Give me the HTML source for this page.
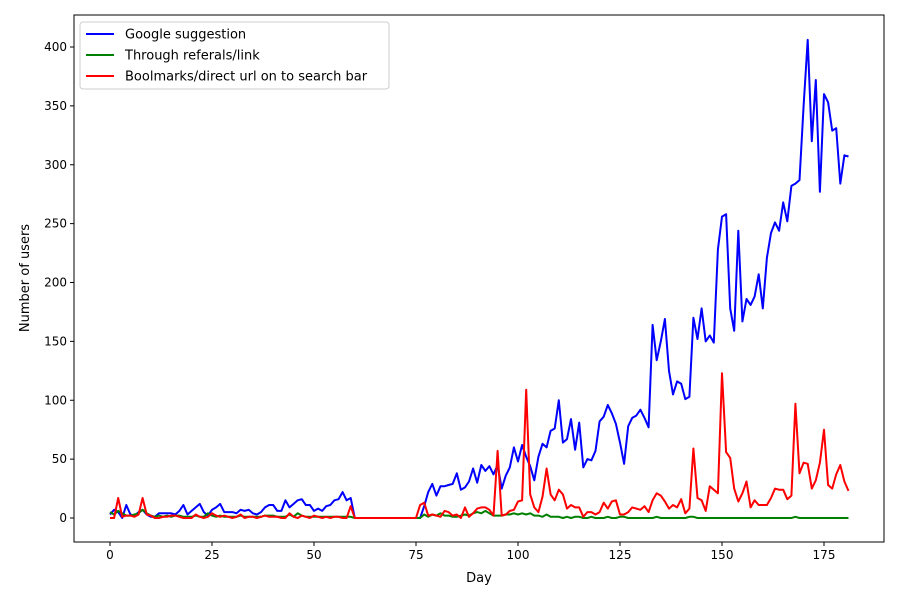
<!DOCTYPE html>
<html><head><meta charset="utf-8">
<style>body{margin:0;background:#fff;font-family:"Liberation Sans","DejaVu Sans",sans-serif}</style></head>
<body>
<svg id="chart" width="900" height="600" xmlns="http://www.w3.org/2000/svg" font-family="DejaVu Sans, Liberation Sans, sans-serif"></svg>
<script>
const xTicks=[0,25,50,75,100,125,150,175];
const yTicks=[0,50,100,150,200,250,300,350,400];
const seriesNames=["Google suggestion","Through referals/link","Boolmarks/direct url on to search bar"];
const google=[3,7,5,0,11,3,2,5,7,3,1,1,4,4,4,4,3,6,11,3,6,9,12,5,2,7,9,12,5,5,5,4,7,6,7,4,3,5,9,11,11,6,6,15,9,12,15,16,11,11,6,8,6,10,11,15,16,22,15,17,0,0,0,0,0,0,0,0,0,0,0,0,0,0,0,0,0,10,22,29,19,27,27,28,29,38,24,26,31,42,30,45,40,44,37,45,25,36,43,60,48,62,52,44,32,52,63,60,74,76,100,64,67,84,58,81,43,50,49,57,82,86,96,89,80,64,46,78,85,87,92,85,77,164,134,150,169,125,105,116,114,101,103,170,152,178,150,155,149,228,256,258,178,159,244,167,186,181,188,207,178,221,242,251,244,268,252,282,284,287,350,406,320,372,277,360,353,329,331,284,308,307];
const referral=[5,3,6,4,2,2,3,4,7,4,2,1,2,1,2,1,2,2,1,1,1,2,1,1,4,2,1,2,1,1,1,1,2,1,1,1,1,1,2,2,2,1,1,1,3,1,4,2,1,1,1,1,1,1,1,1,1,1,1,1,0,0,0,0,0,0,0,0,0,0,0,0,0,0,0,0,0,3,1,3,2,4,2,2,1,1,2,3,2,4,5,4,6,4,2,2,2,3,3,4,3,4,3,4,2,2,1,3,1,1,1,0,1,0,1,1,0,0,1,0,0,0,1,0,0,1,1,0,0,0,0,0,0,0,1,0,0,0,0,0,0,0,1,1,0,0,0,0,0,0,0,0,0,0,0,0,0,0,0,0,0,0,0,0,0,0,0,0,1,0,0,0,0,0,0,0,0,0,0,0,0,0];
const bookmark=[0,0,17,1,2,2,1,3,17,3,2,0,0,1,1,2,2,1,0,0,0,3,1,0,1,4,2,1,2,1,0,1,3,0,1,1,0,1,2,1,1,1,0,0,4,1,0,2,1,0,2,1,0,1,0,1,1,0,0,10,0,0,0,0,0,0,0,0,0,0,0,0,0,0,0,0,11,13,2,3,2,1,6,5,2,3,0,9,1,4,8,9,9,7,2,57,2,3,6,7,14,15,109,20,9,5,18,42,20,15,24,20,8,11,9,9,1,5,5,3,5,13,8,14,15,3,3,5,9,8,7,10,5,15,21,19,14,8,11,9,16,4,8,59,17,15,6,27,24,21,123,56,51,25,14,21,31,9,15,11,11,11,17,25,24,24,16,19,97,38,47,46,25,32,47,75,28,25,37,45,31,23];
const colors=["#0000ff","#008000","#ff0000"];
const svg=document.getElementById('chart');const NS="http://www.w3.org/2000/svg";
const L=74,R=884,T=15,B=542;
const xs=v=>110+v*(824-110)/175;
const ys=v=>518-v*(518-47)/400;
function mk(tag,attrs,parent){const e=document.createElementNS(NS,tag);for(const k in attrs)e.setAttribute(k,attrs[k]);(parent||svg).appendChild(e);return e;}
const frame=mk('rect',{x:L,y:T,width:R-L,height:B-T,fill:'none',stroke:'#000','stroke-width':1});


xTicks.forEach(t=>{const g=mk('g',{});


mk('line',{x1:xs(t),x2:xs(t),y1:B,y2:B+4,stroke:'#000'},g);
const tx=mk('text',{x:xs(t),y:B+17,'font-size':12,'text-anchor':'middle'},g);tx.textContent=t;});
yTicks.forEach(t=>{const g=mk('g',{});


mk('line',{x1:L-4,x2:L,y1:ys(t),y2:ys(t),stroke:'#000'},g);
const tx=mk('text',{x:L-7,y:ys(t)+4,'font-size':12,'text-anchor':'end'},g);tx.textContent=t;});
const xl=mk('text',{x:479,y:582,'font-size':13,'text-anchor':'middle'});xl.textContent='Day';


const yl=mk('text',{x:29,y:278,'font-size':13,'text-anchor':'middle',transform:'rotate(-90 29 278)'});yl.textContent='Number of users';


[google,referral,bookmark].forEach((s,i)=>{
const p=mk('polyline',{points:s.map((v,d)=>xs(d).toFixed(1)+','+ys(v).toFixed(1)).join(' '),fill:'none',stroke:colors[i],'stroke-width':2,'stroke-linejoin':'round'});

});
const lg=mk('g',{});


mk('rect',{x:80,y:22,width:309,height:67,rx:3,fill:'#fff',stroke:'#ccc'},lg);
seriesNames.forEach((n,i)=>{const g=mk('g',{},lg);


const y=34+i*21;mk('line',{x1:86,x2:114,y1:y,y2:y,stroke:colors[i],'stroke-width':2},g);
const t=mk('text',{x:125,y:y+4.5,'font-size':13},g);t.textContent=n;});
</script>
</body></html>
